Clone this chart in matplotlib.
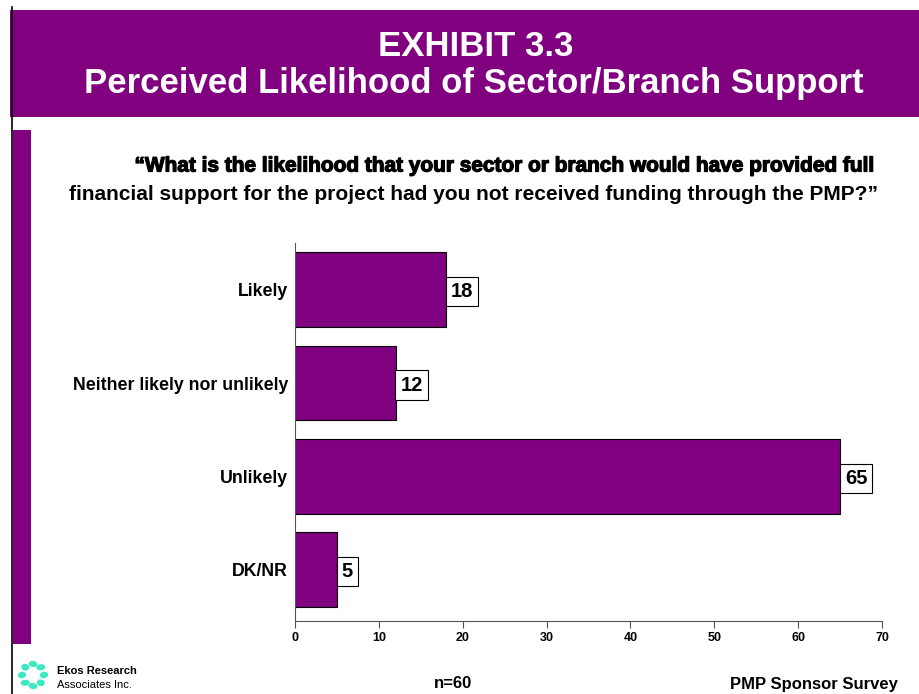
import matplotlib.pyplot as plt
from matplotlib.patches import Rectangle, Ellipse
import matplotlib.patheffects as pe
import numpy as np

categories = ["Likely", "Neither likely nor unlikely", "Unlikely", "DK/NR"]
values = [18, 12, 65, 5]
xticks = [0, 10, 20, 30, 40, 50, 60, 70]

PURPLE = "#800080"
W, H = 920, 694

plt.rcParams['font.family'] = ['Liberation Sans', 'DejaVu Sans']

fig = plt.figure(figsize=(W / 100, H / 100), dpi=100)


def fx(px):
    return px / W


def fy(py):
    return 1 - py / H


# header band and left decoration
fig.patches.append(Rectangle((fx(10), fy(117)), fx(910), 107 / H, transform=fig.transFigure,
                             facecolor=PURPLE, edgecolor="none", zorder=0))
fig.patches.append(Rectangle((fx(13), fy(644)), fx(18), 514 / H, transform=fig.transFigure,
                             facecolor=PURPLE, edgecolor="none", zorder=0))
fig.lines.append(plt.Line2D([fx(12), fx(12)], [fy(7), 0], transform=fig.transFigure,
                            color="black", lw=1.2))

fig.text(fx(476), fy(47), "EXHIBIT 3.3", color="white", fontsize=25, fontweight="bold",
         ha="center", va="center")
fig.text(fx(474), fy(84), "Perceived Likelihood of Sector/Branch Support", color="white",
         fontsize=25, fontweight="bold", ha="center", va="center")

fig.text(fx(878), fy(166), "\u201cWhat is the likelihood that your sector or branch would have provided full",
         fontsize=15, fontweight="bold", ha="right", va="center",
         path_effects=[pe.withStroke(linewidth=0.9, foreground="black")])
fig.text(fx(878), fy(195), "financial support for the project had you not received funding through the PMP?\u201d",
         fontsize=15, fontweight="bold", ha="right", va="center")

# chart
ax = fig.add_axes([fx(295), 1 - 621 / H, fx(587), (621 - 243) / H])
y = np.arange(len(categories))
ax.barh(y, values, height=0.8, color=PURPLE, edgecolor="black", linewidth=0.8)
for yi, v in zip(y, values):
    ax.annotate(str(v), (v, yi), xytext=(3.5, 0), textcoords="offset points",
                ha="left", va="center_baseline", fontsize=14.5, fontweight="bold",
                bbox=dict(boxstyle="square,pad=0.25", fc="white", ec="black", lw=0.8))

ax.set_xlim(0, 70)
ax.set_ylim(3.55, -0.5)
ax.set_xticks(xticks)
ax.set_xticklabels([str(t) for t in xticks], fontsize=9, fontweight="bold")
ax.set_yticks(y)
ax.set_yticklabels(categories, fontsize=12.8, fontweight="bold")
ax.tick_params(axis="y", length=0, pad=5)
ax.tick_params(axis="x", length=5, width=0.8, color="#555555", pad=3)
ax.spines["top"].set_visible(False)
ax.spines["right"].set_visible(False)
ax.spines["left"].set_color("#555555")
ax.spines["bottom"].set_color("#555555")

# footer
cx, cy = 33, 675
for a in np.linspace(0, 2 * np.pi, 8, endpoint=False):
    fig.patches.append(Ellipse((fx(cx + 11 * np.cos(a)), fy(cy + 11 * np.sin(a))),
                               9 / W, 6 / H, angle=np.degrees(a) + 60,
                               transform=fig.transFigure, facecolor="#3ee8c0",
                               edgecolor="none"))
fig.text(fx(57), fy(671), "Ekos Research", fontsize=8, fontweight="bold", ha="left", va="center")
fig.text(fx(57), fy(685), "Associates Inc.", fontsize=8, ha="left", va="center")
fig.text(fx(453), fy(684), "n=60", fontsize=12, fontweight="bold", ha="center", va="center")
fig.text(fx(898), fy(684), "PMP Sponsor Survey", fontsize=12, fontweight="bold", ha="right", va="center")

fig.savefig("out.png", dpi=100)
